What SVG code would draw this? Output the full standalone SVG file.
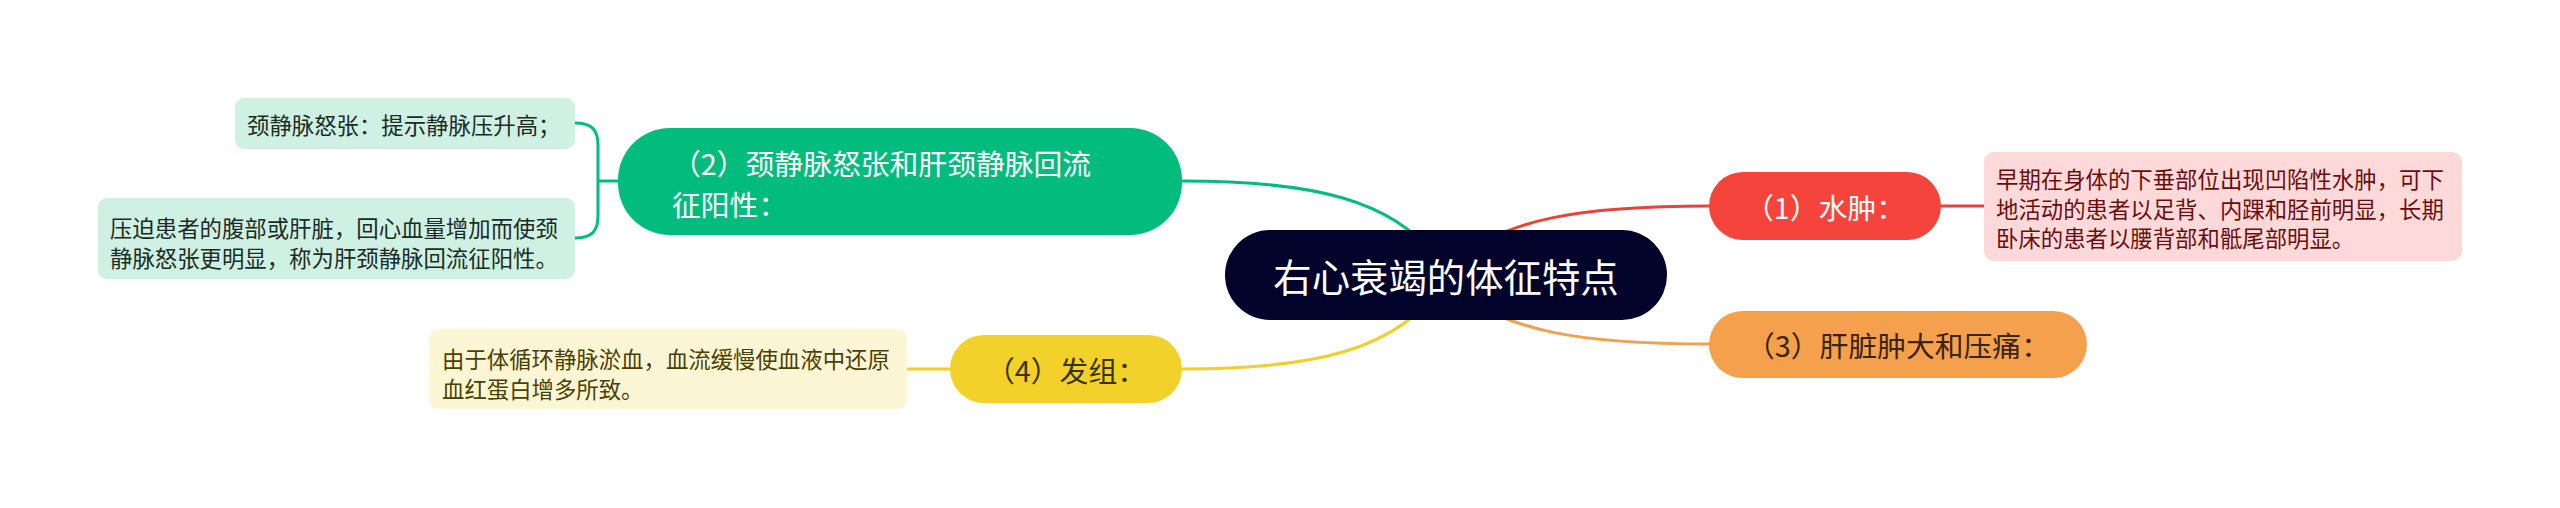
<svg xmlns="http://www.w3.org/2000/svg" width="2560" height="508" viewBox="0 0 2560 508">
<style>
text{font-family:"Noto Sans CJK SC","Noto Sans",sans-serif;dominant-baseline:central}
.conn{fill:none;stroke-width:3;stroke-linecap:round}
.main{font-size:28.8px}
.sub{font-size:22.4px}
</style>
<rect width="2560" height="508" fill="#ffffff"/>
<g id="connectors">
<path class="conn" stroke="#02bc7d" d="M1446 275 C1405 195 1300 181 1182 181"/>
<path class="conn" stroke="#e8433b" d="M1446 275 C1490 214 1600 206 1709 206"/>
<path class="conn" stroke="#f29f4e" d="M1446 275 C1490 336 1600 344 1709 344"/>
<path class="conn" stroke="#efd02a" d="M1446 275 C1405 355 1300 369 1182 369"/>
<path class="conn" stroke="#02bc7d" d="M618 181 L598 181 M575 123 C592 123 598 130 598 145 L598 216 C598 231 592 238 575 238"/>
<path class="conn" stroke="#e8433b" d="M1941 206 L1984 206"/>
<path class="conn" stroke="#efd02a" d="M950 369 L907 369"/>
</g>
<g id="root">
<rect x="1225" y="230" width="442" height="90" rx="45" fill="#02032a"/>
<text x="1446" y="275" font-size="38.4" fill="#ffffff" text-anchor="middle">右心衰竭的体征特点</text>
</g>
<g id="n2">
<rect x="618" y="128" width="564" height="107" rx="52" fill="#02bc7d"/>
<text class="main" x="672" y="162" fill="#ffffff">（2）颈静脉怒张和肝颈静脉回流</text>
<text class="main" x="672" y="203" fill="#ffffff">征阳性：</text>
</g>
<g id="n2a">
<rect x="235" y="98" width="340" height="51" rx="9" fill="#cff1e4"/>
<text class="sub" x="247" y="124" fill="#1b2b25">颈静脉怒张：提示静脉压升高；</text>
</g>
<g id="n2b">
<rect x="98" y="198" width="477" height="81" rx="9" fill="#cff1e4"/>
<text class="sub" x="110" y="227" fill="#1b2b25">压迫患者的腹部或肝脏，回心血量增加而使颈</text>
<text class="sub" x="110" y="257" fill="#1b2b25">静脉怒张更明显，称为肝颈静脉回流征阳性。</text>
</g>
<g id="n1">
<rect x="1709" y="172" width="232" height="68" rx="34" fill="#f5443c"/>
<text class="main" x="1825" y="206" fill="#ffffff" text-anchor="middle">（1）水肿：</text>
</g>
<g id="n1a">
<rect x="1984" y="152" width="478" height="109" rx="10" fill="#fdd9d9"/>
<text class="sub" x="1996" y="178" fill="#6b0d0d">早期在身体的下垂部位出现凹陷性水肿，可下</text>
<text class="sub" x="1996" y="207.5" fill="#6b0d0d">地活动的患者以足背、内踝和胫前明显，长期</text>
<text class="sub" x="1996" y="237" fill="#6b0d0d">卧床的患者以腰背部和骶尾部明显。</text>
</g>
<g id="n3">
<rect x="1709" y="311" width="378" height="67" rx="33.5" fill="#f5a04d"/>
<text class="main" x="1898" y="344" fill="#3a2410" text-anchor="middle">（3）肝脏肿大和压痛：</text>
</g>
<g id="n4">
<rect x="950" y="335" width="232" height="68" rx="34" fill="#f1d12a"/>
<text class="main" x="1066" y="369" fill="#3a3300" text-anchor="middle">（4）发组：</text>
</g>
<g id="n4a">
<rect x="429" y="329" width="478" height="80" rx="10" fill="#fdf6d5"/>
<text class="sub" x="442" y="358" fill="#4a4000">由于体循环静脉淤血，血流缓慢使血液中还原</text>
<text class="sub" x="442" y="388" fill="#4a4000">血红蛋白增多所致。</text>
</g>
</svg>
